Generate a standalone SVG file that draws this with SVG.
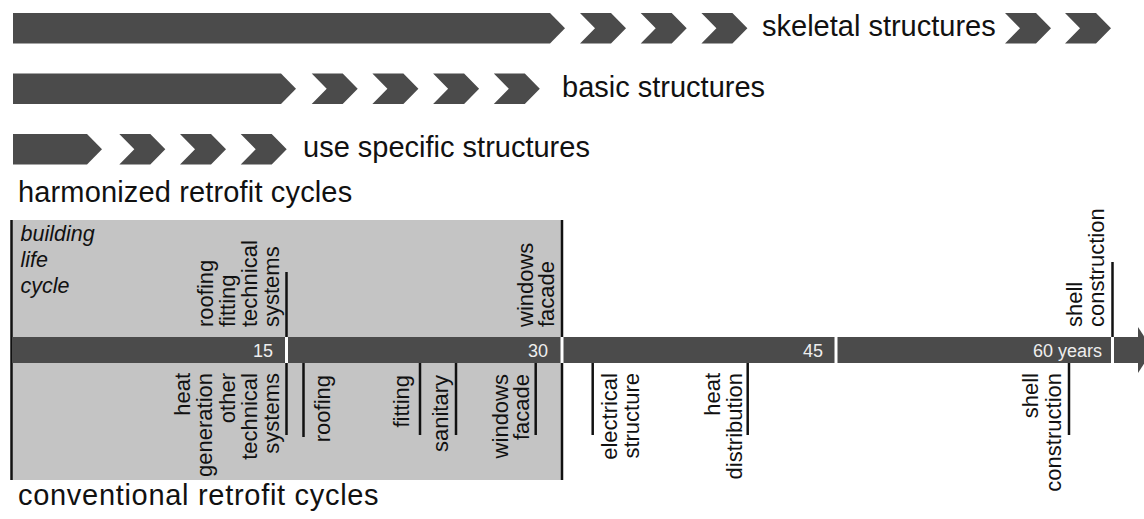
<svg xmlns="http://www.w3.org/2000/svg" width="1144" height="519" viewBox="0 0 1144 519">
<style>
.dk{fill:#4b4b4b}
.t{font-family:"Liberation Sans",Arial,sans-serif;fill:#111}
.big{font-size:29px}
.lab{font-size:22px}
.it{font-size:21.5px;font-style:italic}
.num{font-family:"Liberation Sans",Arial,sans-serif;font-size:18px;fill:#eeeeee;text-anchor:end}
.tick{stroke:#111;stroke-width:2.5;fill:none}
.gap{stroke:#ffffff;stroke-width:3}
</style>
<defs>
<polygon id="chev" points="0,0 31,0 46,15.25 31,30.5 0,30.5 15,15.25"/>
</defs>
<g id="skeletal">
<polygon class="dk" points="13,13 550,13 565,28.25 550,43.5 13,43.5"/>
<use href="#chev" class="dk" x="580" y="13"/>
<use href="#chev" class="dk" x="640.7" y="13"/>
<use href="#chev" class="dk" x="701.4" y="13"/>
<text class="t big" x="762" y="36">skeletal structures</text>
<use href="#chev" class="dk" x="1005" y="13"/>
<use href="#chev" class="dk" x="1065" y="13"/>
</g>
<g id="basic">
<polygon class="dk" points="13,73.5 281,73.5 296,88.75 281,104 13,104"/>
<use href="#chev" class="dk" x="311.7" y="73.5"/>
<use href="#chev" class="dk" x="372.4" y="73.5"/>
<use href="#chev" class="dk" x="433.1" y="73.5"/>
<use href="#chev" class="dk" x="493.8" y="73.5"/>
<text class="t big" x="562" y="97">basic structures</text>
</g>
<g id="usespecific">
<polygon class="dk" points="13,134 87,134 102,149.25 87,164.5 13,164.5"/>
<use href="#chev" class="dk" x="119.3" y="134"/>
<use href="#chev" class="dk" x="180" y="134"/>
<use href="#chev" class="dk" x="240.7" y="134"/>
<text class="t big" x="303" y="157">use specific structures</text>
</g>
<text id="harmonized" class="t big" x="18" y="202" letter-spacing="0.15">harmonized retrofit cycles</text>
<g id="lifecycle-box">
<rect x="12" y="220" width="550" height="260" fill="#c4c4c4"/>
<line class="tick" x1="11.5" y1="220" x2="11.5" y2="480"/>
<line class="tick" x1="562" y1="220" x2="562" y2="480"/>
<text class="t it" x="20.5" y="241">building</text>
<text class="t it" x="20.5" y="267">life</text>
<text class="t it" x="20.5" y="293">cycle</text>
</g>
<g id="timeline">
<rect class="dk" x="12" y="337" width="1127" height="26"/>
<polygon class="dk" points="1138,327 1153,350 1138,373"/>
<line class="gap" x1="286.5" y1="337" x2="286.5" y2="363"/>
<line class="gap" x1="562" y1="337" x2="562" y2="363"/>
<line class="gap" x1="836" y1="337" x2="836" y2="363"/>
<line class="gap" x1="1112.5" y1="337" x2="1112.5" y2="363"/>
<text class="num" x="273" y="357">15</text>
<text class="num" x="548" y="357">30</text>
<text class="num" x="823" y="357">45</text>
<text class="num" x="1102" y="357">60 years</text>
</g>
<g id="connectors">
<line class="tick" x1="286.5" y1="272" x2="286.5" y2="337"/>
<line class="tick" x1="1112.5" y1="262" x2="1112.5" y2="337"/>
<line class="tick" x1="286.5" y1="363" x2="286.5" y2="435"/>
<line class="tick" x1="303.5" y1="363" x2="303.5" y2="437"/>
<line class="tick" x1="420" y1="363" x2="420" y2="435"/>
<line class="tick" x1="456" y1="363" x2="456" y2="435"/>
<line class="tick" x1="535.7" y1="363" x2="535.7" y2="435"/>
<line class="tick" x1="592.7" y1="363" x2="592.7" y2="435"/>
<line class="tick" x1="747.7" y1="363" x2="747.7" y2="435"/>
<line class="tick" x1="1069" y1="363" x2="1069" y2="435"/>
</g>
<g id="up-15">
<text class="t lab" transform="translate(212.5,327) rotate(-90)">roofing</text>
<text class="t lab" transform="translate(234.8,327) rotate(-90)">fitting</text>
<text class="t lab" transform="translate(257,327) rotate(-90)">technical</text>
<text class="t lab" transform="translate(279.3,327) rotate(-90)">systems</text>
</g>
<g id="up-30">
<text class="t lab" transform="translate(533,327) rotate(-90)">windows</text>
<text class="t lab" transform="translate(554,327) rotate(-90)">facade</text>
</g>
<g id="up-60">
<text class="t lab" transform="translate(1081.7,327) rotate(-90)">shell</text>
<text class="t lab" transform="translate(1103.5,327) rotate(-90)">construction</text>
</g>
<g id="lo-heat" text-anchor="end">
<text class="t lab" transform="translate(190,373) rotate(-90)">heat</text>
<text class="t lab" transform="translate(212.3,373) rotate(-90)">generation</text>
<text class="t lab" transform="translate(234.6,373) rotate(-90)">other</text>
<text class="t lab" transform="translate(256.9,373) rotate(-90)">technical</text>
<text class="t lab" transform="translate(279.2,373) rotate(-90)">systems</text>
</g>
<g id="lo-roofing" text-anchor="end">
<text class="t lab" transform="translate(330,375) rotate(-90)">roofing</text>
</g>
<g id="lo-fitting" text-anchor="end">
<text class="t lab" transform="translate(409,375) rotate(-90)">fitting</text>
</g>
<g id="lo-sanitary" text-anchor="end">
<text class="t lab" transform="translate(448,375) rotate(-90)">sanitary</text>
</g>
<g id="lo-windows" text-anchor="end">
<text class="t lab" transform="translate(508,374) rotate(-90)">windows</text>
<text class="t lab" transform="translate(529,374) rotate(-90)">facade</text>
</g>
<g id="lo-electrical" text-anchor="end">
<text class="t lab" transform="translate(617,373) rotate(-90)">electrical</text>
<text class="t lab" transform="translate(638.5,373) rotate(-90)">structure</text>
</g>
<g id="lo-heatdist" text-anchor="end">
<text class="t lab" transform="translate(720,373) rotate(-90)">heat</text>
<text class="t lab" transform="translate(742,373) rotate(-90)">distribution</text>
</g>
<g id="lo-shell" text-anchor="end">
<text class="t lab" transform="translate(1038,373) rotate(-90)">shell</text>
<text class="t lab" transform="translate(1060.5,373) rotate(-90)">construction</text>
</g>
<text id="conventional" class="t big" x="18" y="505" letter-spacing="0.7">conventional retrofit cycles</text>
</svg>
